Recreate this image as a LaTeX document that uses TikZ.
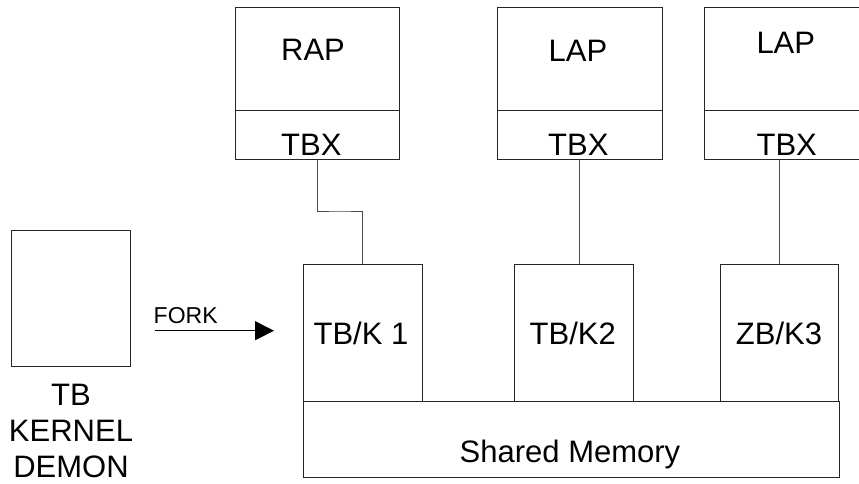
\documentclass[tikz,border=0pt]{standalone}
\usepackage{fontspec}
\setmainfont{Liberation Sans}
\usetikzlibrary{arrows.meta}
\begin{document}
\begin{tikzpicture}[x=1pt,y=-1pt,
  box/.style={draw=black!85, line width=1pt, inner sep=0pt},
  lbl/.style={font=\fontsize{31}{37}\selectfont, inner sep=0pt, anchor=base},
  wire/.style={draw=black!70, line width=1pt}]
\useasboundingbox (0,0) rectangle (859,484);
\clip (0,0) rectangle (859,484);
% upper boxes
\node[box, minimum width=163.6pt, minimum height=103.7pt] (rap) at (317.5,59.15) {};
\node[box, minimum width=163.6pt, minimum height=48pt] (tbx1) at (317.5,135) {};
\node[box, minimum width=164.7pt, minimum height=103.7pt] (lap1) at (579.65,59.15) {};
\node[box, minimum width=164.7pt, minimum height=48pt] (tbx2) at (579.65,135) {};
\node[box, minimum width=163.7pt, minimum height=103.7pt] (lap2) at (786.15,59.15) {};
\node[box, minimum width=163.7pt, minimum height=48pt] (tbx3) at (786.15,135) {};
% left box
\node[box, minimum width=119pt, minimum height=136.7pt] (demon) at (71.2,298.35) {};
% kernel boxes
\node[box, minimum width=119pt, minimum height=136.3pt] (k1) at (362.8,332.85) {};
\node[box, minimum width=119pt, minimum height=136.3pt] (k2) at (573.8,332.85) {};
\node[box, minimum width=118.7pt, minimum height=136.3pt] (k3) at (779.35,332.85) {};
\node[box, minimum width=536pt, minimum height=76.3pt] (sm) at (571.3,439.15) {};
% labels
\node[lbl] (traptxt) at (313,60.7) {RAP};
\node[lbl] (ttbx1) at (311.3,156) {TBX};
\node[lbl] (tlap1) at (578,61.7) {LAP};
\node[lbl] (ttbx2) at (578.3,156) {TBX};
\node[lbl] (tlap2) at (785.8,54) {LAP};
\node[lbl] (ttbx3) at (786.7,156) {TBX};
\node[lbl] (tk1) at (361,344.3) {TB/K 1};
\node[lbl] (tk2) at (572.7,344.3) {TB/K2};
\node[lbl] (tk3) at (779,344.3) {ZB/K3};
\node[lbl] (tsm) at (570,462.7) {Shared Memory};
\node[font=\fontsize{31}{36}\selectfont, inner sep=0pt, align=center, anchor=north] (tdemon) at (71,384) {TB\\KERNEL\\DEMON};
\node[font=\fontsize{23}{27}\selectfont, inner sep=0pt, anchor=base west] (tfork) at (153.5,323.3) {FORK};
% connectors
\coordinate (bend) at (340,211);
\draw[wire] (tbx1.south) |- (bend) -| (k1.north);
\draw[wire] (tbx2.south) -- (tbx2.south |- k2.north);
\draw[wire] (k3.north |- tbx3.south) -- (k3.north);
\coordinate (fs) at (155,330.7);
\coordinate (fe) at (274,330.7);
\draw[line width=1pt, -{Triangle[length=19pt,width=19pt]}] (fs) -- (fe);
\end{tikzpicture}
\end{document}
